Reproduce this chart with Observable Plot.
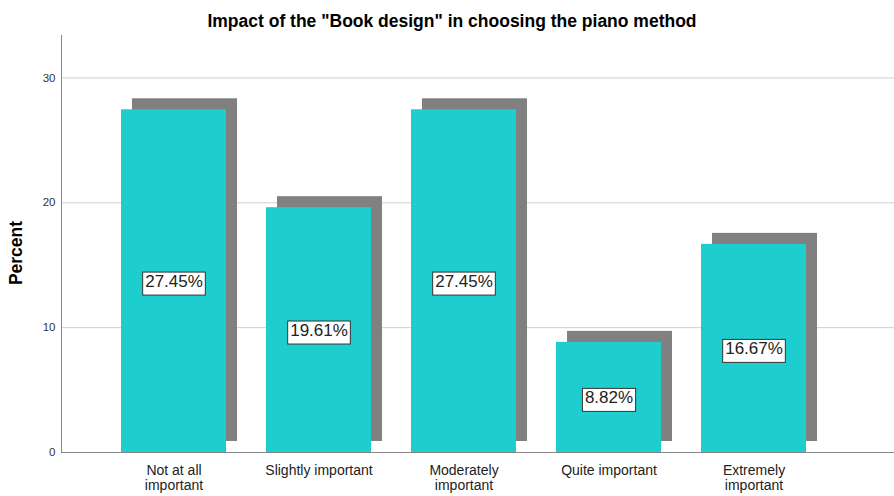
<!DOCTYPE html>
<html>
<head>
<meta charset="utf-8">
<script src="https://cdn.jsdelivr.net/npm/d3@7"></script>
<script src="https://cdn.jsdelivr.net/npm/@observablehq/plot@0.6"></script>
<style>
  html, body { margin: 0; padding: 0; background: #fff; }
  body { width: 894px; height: 496px; overflow: hidden; font-family: "Liberation Sans", Arial, sans-serif; }
  #title { height: 32px; box-sizing: border-box; padding-top: 11px; padding-left: 10px; text-align: center; font-size: 17.5px; font-weight: bold; line-height: 20px; color: #000; white-space: nowrap; }
  #chart svg { display: block; }
</style>
</head>
<body>
<div id="title">Impact of the "Book design" in choosing the piano method</div>
<div id="chart"></div>
<script>
const categories = ["Not at all important", "Slightly important", "Moderately important", "Quite important", "Extremely important"];
const percents = [27.45, 19.61, 27.45, 8.82, 16.67];
const tickLabels = ["Not at all\nimportant", "Slightly important", "Moderately\nimportant", "Quite important", "Extremely\nimportant"];
const yTicks = [0, 10, 20, 30];
const yLabel = "Percent";

const data = categories.map((c, i) => ({category: c, value: percents[i], label: percents[i].toFixed(2) + "%"}));
const tickMap = new Map(categories.map((c, i) => [c, tickLabels[i]]));

const chart = Plot.plot({
  width: 894,
  height: 464,
  marginLeft: 61,
  marginRight: 0,
  marginTop: 3,
  marginBottom: 44,
  style: {fontFamily: "'Liberation Sans', Arial, sans-serif", color: "#222", background: "#fff"},
  x: {domain: categories, range: [101, 826], paddingInner: 0.276, paddingOuter: 0.138, label: null},
  y: {domain: [0, 33.4], label: null},
  marks: [
    Plot.gridY(yTicks.filter(d => d > 0), {stroke: "#cfcfcf", strokeOpacity: 1}),
    Plot.barY(data, {x: "category", y: "value", fill: "#808080", dx: 11, dy: -11}),
    Plot.barY(data, {x: "category", y: "value", fill: "#1ecece"}),
    Plot.text(data, {x: "category", y: d => d.value / 2, text: "label", fontSize: 17, fill: "#222"}),
    Plot.ruleY([0], {stroke: "#888"}),
    Plot.frame({anchor: "left", stroke: "#888"}),
    Plot.axisY(yTicks, {tickSize: 0, tickPadding: 6, fontSize: 11.5, fill: "#333", label: yLabel, labelAnchor: "center", labelArrow: "none", labelOffset: 52}),
    Plot.axisX({tickSize: 0, tickPadding: 11, fontSize: 14, lineHeight: 1.12, fill: "#222", tickFormat: d => tickMap.get(d)})
  ]
});
document.getElementById("chart").appendChild(chart);

// style y axis label
chart.querySelectorAll('g[aria-label="y-axis label"] text').forEach(t => {
  t.setAttribute("font-size", "17.5");
  t.setAttribute("font-weight", "bold");
  t.setAttribute("fill", "#000");
  t.setAttribute("dx", "-9");
});
// boxes around value labels
chart.querySelectorAll('g[aria-label="text"] text').forEach(t => {
  const b = t.getBBox();
  const r = document.createElementNS("http://www.w3.org/2000/svg", "rect");
  r.setAttribute("x", b.x - 2.5);
  r.setAttribute("y", b.y + 0.5);
  r.setAttribute("width", b.width + 5);
  r.setAttribute("height", b.height + 4);
  r.setAttribute("fill", "#fff");
  r.setAttribute("stroke", "#333");
  r.setAttribute("stroke-width", "1");
  const tr = t.getAttribute("transform");
  if (tr) r.setAttribute("transform", tr);
  t.parentNode.insertBefore(r, t);
});
</script>
</body>
</html>
